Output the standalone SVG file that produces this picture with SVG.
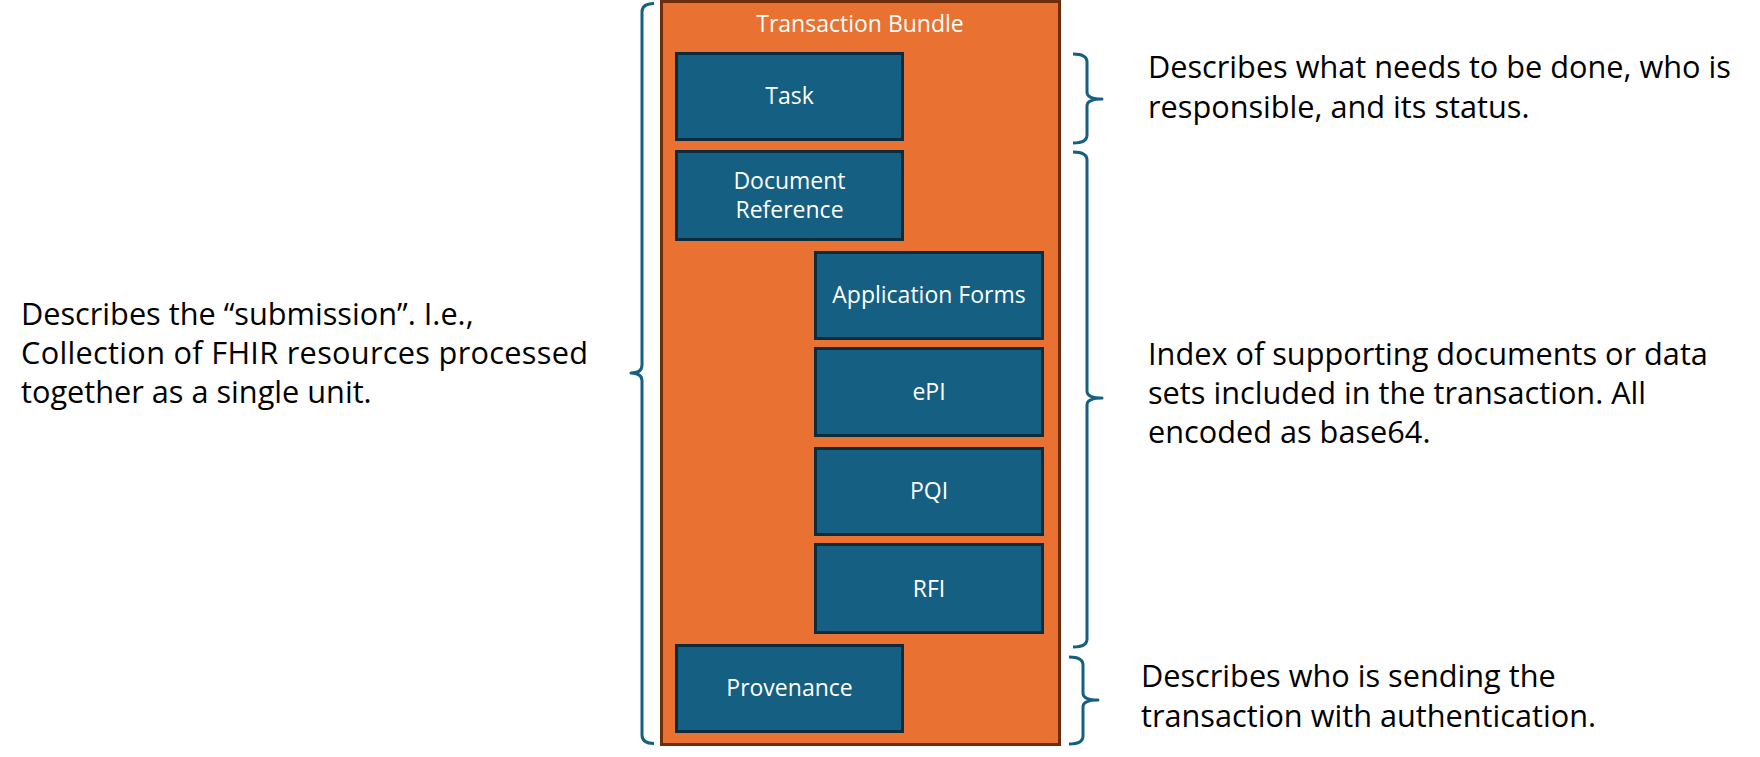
<svg xmlns="http://www.w3.org/2000/svg" width="1760" height="757" viewBox="0 0 1760 757">
<style>
.box{fill:#156082;stroke:#0B2C3C;stroke-width:3}
.lbl{font-family:"Open Sans","Liberation Sans",sans-serif;font-size:23px;fill:#FFFFFF;text-anchor:middle}
.desc{font-family:"Open Sans","Liberation Sans",sans-serif;font-size:30.7px;fill:#000000}
.brace{fill:none;stroke:#156082;stroke-width:3;stroke-linejoin:round;stroke-linecap:butt}
</style>
<rect width="1760" height="757" fill="#FFFFFF"/>
<g id="bundle">
<rect x="661.5" y="1.5" width="398" height="743" fill="#E97132" stroke="#6A2D0E" stroke-width="3"/>
<text class="lbl" x="860" y="32">Transaction Bundle</text>
</g>
<g id="task">
<rect class="box" x="676.5" y="53.5" width="226" height="86"/>
<text class="lbl" x="789.5" y="104">Task</text>
</g>
<g id="docref">
<rect class="box" x="676.5" y="151.5" width="226" height="88"/>
<text class="lbl" x="789.5" y="189">Document</text>
<text class="lbl" x="789.5" y="218">Reference</text>
</g>
<g id="appforms">
<rect class="box" x="815.5" y="252.5" width="227" height="86"/>
<text class="lbl" x="929" y="303">Application Forms</text>
</g>
<g id="epi">
<rect class="box" x="815.5" y="348.5" width="227" height="87"/>
<text class="lbl" x="929" y="400">ePI</text>
</g>
<g id="pqi">
<rect class="box" x="815.5" y="448.5" width="227" height="86"/>
<text class="lbl" x="929" y="499">PQI</text>
</g>
<g id="rfi">
<rect class="box" x="815.5" y="544.5" width="227" height="88"/>
<text class="lbl" x="929" y="597">RFI</text>
</g>
<g id="provenance">
<rect class="box" x="676.5" y="645.5" width="226" height="86"/>
<text class="lbl" x="789.5" y="696">Provenance</text>
</g>
<g id="connectors">
<path class="brace" d="M654 3.5 Q642 3.5 642 12 L642 365 Q642 373 631 373 Q642 373 642 381 L642 735 Q642 743.5 654 743.5"/>
<path class="brace" d="M1073 54 Q1087 54 1087 62 L1087 92 Q1087 99 1102 99 Q1087 99 1087 106 L1087 135 Q1087 143 1073 143"/>
<path class="brace" d="M1073 152 Q1087 152 1087 160 L1087 391 Q1087 398 1102 398 Q1087 398 1087 405 L1087 639 Q1087 647 1073 647"/>
<path class="brace" d="M1069 657 Q1083 657 1083 665 L1083 693 Q1083 700 1098 700 Q1083 700 1083 707 L1083 736 Q1083 744 1069 744"/>
</g>
<g id="notes">
<text class="desc" x="21" y="325">Describes the “submission”. I.e.,</text>
<text class="desc" x="21" y="364" textLength="567" lengthAdjust="spacing">Collection of FHIR resources processed</text>
<text class="desc" x="21" y="403">together as a single unit.</text>
<text class="desc" x="1148" y="78">Describes what needs to be done, who is</text>
<text class="desc" x="1148" y="118">responsible, and its status.</text>
<text class="desc" x="1148" y="365">Index of supporting documents or data</text>
<text class="desc" x="1148" y="404">sets included in the transaction. All</text>
<text class="desc" x="1148" y="443">encoded as base64.</text>
<text class="desc" x="1141" y="687">Describes who is sending the</text>
<text class="desc" x="1141" y="727">transaction with authentication.</text>
</g>
</svg>
